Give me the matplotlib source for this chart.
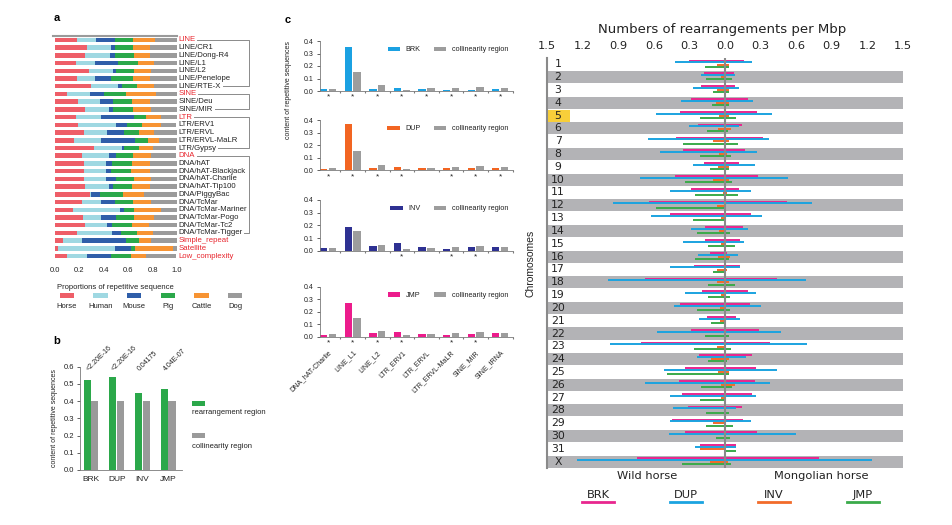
import numpy as np
import matplotlib
matplotlib.use('Agg')
import matplotlib.pyplot as plt
from matplotlib.patches import Rectangle
from matplotlib.lines import Line2D

plt.rcParams['font.family'] = ['Liberation Sans', 'DejaVu Sans']

# ---------------- panel a : proportions per repeat family ----------------
repeat_names = ['LINE', 'LINE/CR1', 'LINE/Dong-R4', 'LINE/L1', 'LINE/L2', 'LINE/Penelope',
                'LINE/RTE-X', 'SINE', 'SINE/Deu', 'SINE/MIR', 'LTR', 'LTR/ERV1', 'LTR/ERVL',
                'LTR/ERVL-MaLR', 'LTR/Gypsy', 'DNA', 'DNA/hAT', 'DNA/hAT-Blackjack',
                'DNA/hAT-Charlie', 'DNA/hAT-Tip100', 'DNA/PiggyBac', 'DNA/TcMar',
                'DNA/TcMar-Mariner', 'DNA/TcMar-Pogo', 'DNA/TcMar-Tc2', 'DNA/TcMar-Tigger',
                'Simple_repeat', 'Satellite', 'Low_complexity']
red_names = ['LINE', 'SINE', 'LTR', 'DNA', 'Simple_repeat', 'Satellite', 'Low_complexity']
bracket_groups = [('LINE', 'LINE/RTE-X'), ('SINE', 'SINE/MIR'),
                  ('LTR', 'LTR/Gypsy'), ('DNA', 'DNA/TcMar-Tigger')]

species = ['Horse', 'Human', 'Mouse', 'Pig', 'Cattle', 'Dog']
species_colors = ['#EE5E68', '#9FD8E2', '#2F5EA9', '#2BA84A', '#F79433', '#9B9B9B']
horse = [.18, .26, .25, .17, .28, .18, .30, .10, .19, .25, .17, .19, .24, .16, .32, .22, .24, .24,
         .24, .25, .29, .22, .15, .23, .25, .18, .07, .03, .10]
human = [.16, .20, .20, .16, .20, .15, .22, .19, .18, .19, .21, .31, .19, .22, .23, .22, .18, .18,
         .18, .19, .01, .16, .38, .15, .18, .29, .15, .46, .16]
mouse = [.15, .03, .04, .19, .02, .13, .03, .11, .11, .04, .27, .09, .14, .28, .02, .06, .05, .04,
         .08, .04, .07, .11, .04, .12, .04, .07, .36, .13, .20]
pig = [.15, .15, .16, .16, .15, .18, .12, .18, .15, .16, .10, .12, .12, .10, .12, .14, .16, .16,
       .15, .15, .19, .15, .08, .15, .16, .13, .11, .04, .16]
cattle = [.18, .14, .13, .13, .14, .14, .14, .25, .15, .15, .12, .16, .12, .09, .11, .15, .15, .16,
          .14, .15, .17, .15, .22, .16, .14, .13, .10, .31, .13]
dog = [.18, .22, .22, .19, .22, .22, .20, .17, .22, .22, .14, .12, .20, .15, .19, .20, .22, .22,
       .21, .22, .27, .21, .13, .19, .23, .20, .21, .03, .24]

# ---------------- panel b ----------------
regions = ['BRK', 'DUP', 'INV', 'JMP']
rearr_content = [0.52, 0.54, 0.45, 0.47]
collin_content = [0.40, 0.40, 0.40, 0.40]
p_values = ['<2.20E-16', '<2.20E-16', '0.04175', '4.04E-07']

# ---------------- panel c ----------------
repeat_types = ['DNA_hAT-Charlie', 'LINE_L1', 'LINE_L2', 'LTR_ERV1', 'LTR_ERVL',
                'LTR_ERVL-MaLR', 'SINE_MIR', 'SINE_tRNA']
collinearity = [0.020, 0.153, 0.046, 0.012, 0.021, 0.028, 0.034, 0.027]
brk_c = [0.015, 0.350, 0.019, 0.023, 0.015, 0.012, 0.011, 0.019]
dup_c = [0.011, 0.370, 0.020, 0.025, 0.018, 0.017, 0.016, 0.021]
inv_c = [0.021, 0.187, 0.040, 0.059, 0.029, 0.012, 0.027, 0.032]
jmp_c = [0.016, 0.267, 0.029, 0.037, 0.021, 0.016, 0.021, 0.027]
brk_sig = [0, 1, 2, 3, 4, 5, 6, 7]
dup_sig = [0, 1, 2, 3, 5, 6, 7]
inv_sig = [3, 5, 6]
jmp_sig = [0, 1, 2, 3, 5, 6]

# ---------------- right panel : rearrangements per Mbp ----------------
chromosomes = [str(i) for i in range(1, 32)] + ['X']
brk_wild = [.30, .18, .20, .29, .38, .23, .41, .35, .18, .42, .29, .64, .46, .17, .17, .13,
            .26, .67, .19, .38, .15, .29, .71, .22, .34, .39, .36, .31, .45, .34, .21, .74]
brk_mongo = [.16, .076, .084, .19, .27, .14, .32, .17, .12, .28, .12, .52, .22, .15, .13, .02,
             .13, .44, .19, .21, .093, .29, .38, .23, .26, .25, .23, .14, .15, .27, .093, .79]
dup_wild = [.42, .20, .27, .37, .58, .30, .65, .55, .27, .72, .46, .94, .62, .29, .35, .23,
            .46, .99, .34, .43, .22, .57, .97, .24, .51, .67, .46, .44, .46, .47, .25, 1.25]
dup_mongo = [.23, .084, .12, .24, .40, .12, .37, .27, .25, .53, .22, .73, .31, .19, .16, .11,
             .13, .68, .26, .30, .13, .47, .69, .18, .44, .38, .26, .093, .22, .60, .093, 1.24]
inv_wild = [.07, .03, .065, .076, .048, .056, .10, .05, .056, .10, .014, .07, .037, .05, .037, .056,
            .07, .065, .034, .042, .042, 0, .065, .12, .056, .037, .037, 0, .10, 0, .21, .13]
inv_mongo = [.03, 0, .03, .037, .037, .048, .037, .02, .037, .037, .02, 0, 0, 0, 0, .042,
             .02, .034, 0, 0, 0, 0, 0, .034, .037, .084, 0, 0, 0, 0, 0, .028]
jmp_wild = [.17, .16, .10, .11, .21, .15, .35, .21, .13, .34, .25, .58, .27, .24, .14, .25,
            .10, .14, .14, .24, .12, .17, .26, .14, .49, .20, .21, .16, .16, .076, 0, .36]
jmp_mongo = [.03, .06, .037, .037, .093, .028, .11, .05, .037, .056, .11, 0, 0, .04, .084, .034,
             0, .084, .042, .042, 0, .034, .048, .02, .037, .056, 0, .034, .07, .042, .093, .05]
highlight_chr = '5'

W, H = 952, 525
fig = plt.figure(figsize=(W / 100, H / 100), dpi=100)


def box(x0, y0, x1, y1):
    # pixel box (top-left origin) -> figure fraction rect
    return [x0 / W, 1 - y1 / H, (x1 - x0) / W, (y1 - y0) / H]


def fxy(x, y):
    return x / W, 1 - y / H


txt = '#222222'
axis_gray = '#7a7a7a'

# ======================= panel a =======================
ax_a = fig.add_axes(box(53, 36, 177, 260))
rows = np.arange(len(repeat_names))
left = np.zeros(len(rows))
for vals, col in zip([horse, human, mouse, pig, cattle, dog], species_colors):
    ax_a.barh(rows, vals, left=left, height=0.58, color=col, linewidth=0)
    left += np.array(vals)
ax_a.set_xlim(-0.015, 1.0)
ax_a.set_ylim(len(rows) - 0.5, -0.5)
ax_a.set_yticks([])
ax_a.set_xticks(np.arange(0, 1.01, 0.2))
ax_a.set_xticklabels(['0.0', '0.2', '0.4', '0.6', '0.8', '1.0'])
ax_a.tick_params(axis='x', length=0, labelsize=5.5, pad=5, colors=txt)
for s in ['left', 'right', 'bottom']:
    ax_a.spines[s].set_visible(False)
ax_a.spines['top'].set_color('#9a9a9a')
ax_a.spines['top'].set_linewidth(1.5)
ax_a.set_xlabel('Proportions of repetitive sequence', fontsize=5.5, labelpad=7, color=txt)

name_texts = {}
for i, name in enumerate(repeat_names):
    col = '#E8262E' if name in red_names else txt
    name_texts[name] = ax_a.text(1.01, i, name, transform=ax_a.get_yaxis_transform(),
                                 va='center', ha='left', fontsize=5.6, color=col)

fig.canvas.draw()
renderer = fig.canvas.get_renderer()
x_br = (249 - 53) / (177 - 53)
for first, last in bracket_groups:
    ends = []
    for nm in (first, last):
        bb = name_texts[nm].get_window_extent(renderer)
        x_end = ax_a.transAxes.inverted().transform((bb.x1 + 2, 0))[0]
        ends.append(x_end)
    i0, i1 = repeat_names.index(first), repeat_names.index(last)
    ax_a.plot([ends[0], x_br, x_br, ends[1]], [i0, i0, i1, i1], color='#8a8a8a', lw=0.7,
              transform=ax_a.get_yaxis_transform(), clip_on=False)

# legend for panel a
ax_al = fig.add_axes(box(50, 288, 252, 312))
ax_al.set_xlim(-0.5, len(species) - 0.5)
ax_al.set_ylim(0, 1)
ax_al.bar(np.arange(len(species)), [0.22] * len(species), bottom=0.58, width=0.42,
          color=species_colors, linewidth=0)
for i, sp in enumerate(species):
    ax_al.text(i, 0.25, sp, ha='center', va='center', fontsize=5.5, color=txt)
ax_al.axis('off')

# ======================= panel b =======================
ax_b = fig.add_axes(box(80, 366.7, 182, 470))
xb = np.arange(len(regions))
ax_b.bar(xb - 0.15, rearr_content, 0.28, color='#2BA84A', linewidth=0)
ax_b.bar(xb + 0.15, collin_content, 0.28, color='#9A9A9A', linewidth=0)
ax_b.set_xlim(-0.43, 3.54)
ax_b.set_ylim(0, 0.6)
ax_b.set_yticks(np.arange(0, 0.61, 0.1))
ax_b.set_yticklabels(['%.1f' % v for v in np.arange(0, 0.61, 0.1)])
ax_b.set_xticks(xb)
ax_b.set_xticklabels(regions)
ax_b.tick_params(axis='y', length=2.5, width=0.5, labelsize=5.5, colors=txt, pad=2)
ax_b.tick_params(axis='x', length=0, labelsize=6, colors=txt, pad=4)
for s in ['top', 'right']:
    ax_b.spines[s].set_visible(False)
for s in ['left', 'bottom']:
    ax_b.spines[s].set_color(axis_gray)
    ax_b.spines[s].set_linewidth(0.6)
ax_b.set_ylabel('content of repetitive sequences', fontsize=5, color=txt, labelpad=4)
for x, p in zip(xb, p_values):
    ax_b.text(x - 0.05, 0.565, p, rotation=45, rotation_mode='anchor', ha='left',
              va='bottom', fontsize=5, color=txt)

fig.add_artist(Rectangle(fxy(192, 406), 13 / W, 5 / H, transform=fig.transFigure,
                         color='#2BA84A', lw=0))
fig.text(*fxy(192, 412), 'rearrangement region', fontsize=5.5, va='center', ha='left', color=txt)
fig.add_artist(Rectangle(fxy(192, 438), 13 / W, 5 / H, transform=fig.transFigure,
                         color='#9A9A9A', lw=0))
fig.text(*fxy(192, 447), 'collinearity region', fontsize=5.5, va='center', ha='left', color=txt)

# ======================= panel c =======================
c_series = [brk_c, dup_c, inv_c, jmp_c]
c_names = ['BRK', 'DUP', 'INV', 'JMP']
c_colors = ['#1BA1E2', '#F26522', '#2E3192', '#EC1C8C']
c_sigs = [brk_sig, dup_sig, inv_sig, jmp_sig]
c_rows = [(41, 91), (120, 170.3), (200, 250.7), (286.7, 336.7)]
xc = np.arange(len(repeat_types))
for k, (top, bot) in enumerate(c_rows):
    ax = fig.add_axes(box(320, top, 513, bot))
    ax.bar(xc - 0.18, c_series[k], 0.3, color=c_colors[k], linewidth=0, label=c_names[k])
    ax.bar(xc + 0.18, collinearity, 0.3, color='#9D9D9D', linewidth=0,
           label='collinearity region')
    ax.set_xlim(-0.33, 7.52)
    ax.set_ylim(0, 0.4)
    ax.set_yticks([0, 0.1, 0.2, 0.3, 0.4])
    ax.set_yticklabels(['0.0', '0.1', '0.2', '0.3', '0.4'])
    ax.set_xticks(xc)
    ax.set_xticks(xc + 0.5, minor=True)
    ax.tick_params(axis='y', length=2.5, width=0.5, labelsize=5, colors=txt, pad=2)
    ax.tick_params(axis='x', which='major', length=0)
    ax.tick_params(axis='x', which='minor', length=1.2, width=0.8, color=axis_gray)
    if k == len(c_rows) - 1:
        ax.set_xticklabels(repeat_types, rotation=45, ha='right', rotation_mode='anchor',
                           fontsize=5, color=txt)
        ax.tick_params(axis='x', which='major', pad=9)
    else:
        ax.set_xticklabels([])
    for s in ['top', 'right']:
        ax.spines[s].set_visible(False)
    for s in ['left', 'bottom']:
        ax.spines[s].set_color(axis_gray)
        ax.spines[s].set_linewidth(0.6)
    for i in c_sigs[k]:
        ax.text(i, -0.05, '*', ha='center', va='center', fontsize=6, color=txt, clip_on=False)
    ax.legend(loc='upper right', bbox_to_anchor=(0.99, 0.95), ncol=2, frameon=False,
              fontsize=5.2, handlelength=1.7, handleheight=0.5, handletextpad=0.8,
              columnspacing=1.8, borderaxespad=0, labelcolor=txt)

fig.text(*fxy(288, 90), 'content of repetitive sequences', rotation=90, fontsize=5,
         ha='center', va='center', color=txt)

# ======================= right panel =======================
dv = 'DejaVu Sans'
ax_r = fig.add_axes(box(547, 57.9, 903, 468.1))
yr = np.arange(len(chromosomes))
ax_r.barh(yr[1::2], 3.0, left=-1.5, height=0.94, color='#B3B3B6', linewidth=0, zorder=0)
hi = chromosomes.index(highlight_chr)
ax_r.barh([hi], 0.19, left=-1.5, height=0.94, color='#F8CF3A', linewidth=0, zorder=1)

r_sets = [(brk_wild, brk_mongo, '#E8268E', -0.29), (dup_wild, dup_mongo, '#1BA3E0', -0.15),
          (inv_wild, inv_mongo, '#F26B2A', 0.02), (jmp_wild, jmp_mongo, '#3AAA4A', 0.18)]
for wild, mongo, col, off in r_sets:
    ax_r.hlines(yr + off, -np.array(wild), np.array(mongo), color=col, lw=1.4, zorder=2)
ax_r.axvline(0, color='#8A8A8A', lw=1.5, zorder=3)

for i, c in enumerate(chromosomes):
    ax_r.text(-1.407, i, c, ha='center', va='center', fontsize=7.8, family=dv, color=txt)

ax_r.set_xlim(-1.5, 1.5)
ax_r.set_ylim(len(chromosomes) - 0.5, -0.5)
ax_r.xaxis.tick_top()
ticks_r = np.arange(-1.5, 1.51, 0.3)
ax_r.set_xticks(ticks_r)
ax_r.set_xticklabels(['%.1f' % abs(v) for v in ticks_r], family=dv)
ax_r.tick_params(axis='x', length=0, pad=5, labelsize=8.2, colors=txt)
ax_r.set_yticks([])
for s in ['top', 'right', 'bottom']:
    ax_r.spines[s].set_visible(False)
ax_r.spines['left'].set_color('#8A8A8A')
ax_r.spines['left'].set_linewidth(1.5)

fig.text(*fxy(722, 29), 'Numbers of rearrangements per Mbp', fontsize=9.5, family=dv,
         ha='center', va='center', color=txt)
fig.text(*fxy(530, 263), 'Chromosomes', rotation=90, fontsize=7.5, ha='center',
         va='center', color=txt)
fig.text(*fxy(647, 476), 'Wild horse', fontsize=8.2, family=dv, ha='center', va='center',
         color=txt)
fig.text(*fxy(821, 476), 'Mongolian horse', fontsize=8.2, family=dv, ha='center', va='center',
         color=txt)

leg_x = [598, 686, 774, 863]
for (wild, mongo, col, off), nm, x in zip(r_sets, c_names, leg_x):
    fig.text(*fxy(x, 495), nm, fontsize=8.2, family=dv, ha='center', va='center', color=txt)
    fig.add_artist(Line2D([(x - 16) / W, (x + 16) / W], [1 - 502 / H] * 2,
                          transform=fig.transFigure, color=col, lw=2))

# panel letters
fig.text(*fxy(57, 18), 'a', fontsize=8, fontweight='bold', ha='center', va='center')
fig.text(*fxy(57, 341), 'b', fontsize=8, fontweight='bold', ha='center', va='center')
fig.text(*fxy(288, 20), 'c', fontsize=8, fontweight='bold', ha='center', va='center')

fig.savefig('out.png', dpi=100)
